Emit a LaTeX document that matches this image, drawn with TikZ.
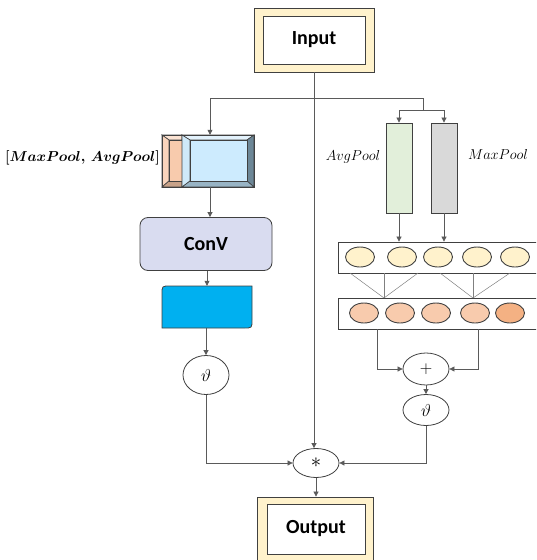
\documentclass[tikz,border=0pt]{standalone}
\usepackage{fontspec}
\newfontfamily\carlito{Carlito}
\usetikzlibrary{arrows.meta,shapes.geometric}
\definecolor{cream}{RGB}{255,242,204}
\definecolor{edgec}{RGB}{64,64,64}
\definecolor{linec}{RGB}{90,90,90}
\definecolor{lav}{RGB}{217,220,240}
\definecolor{cyanb}{RGB}{0,176,240}
\definecolor{avgc}{RGB}{226,239,218}
\definecolor{maxc}{RGB}{217,217,217}
\definecolor{yel}{RGB}{255,242,204}
\definecolor{pch}{RGB}{248,203,173}
\definecolor{pchd}{RGB}{244,177,131}
\definecolor{bin}{RGB}{205,235,254}
\definecolor{btop}{RGB}{227,242,252}
\definecolor{bleft}{RGB}{207,233,248}
\definecolor{bright}{RGB}{109,135,151}
\definecolor{bbot}{RGB}{152,180,197}
\definecolor{otop}{RGB}{251,227,211}
\definecolor{oleft}{RGB}{249,212,188}
\definecolor{obot}{RGB}{200,162,137}
\newcommand{\poollabel}{\mbox{\boldmath$[MaxPool,\,AvgPool]$}}
\newcommand{\lblfont}{\fontsize{15}{18}\selectfont}
\newcommand{\plblfont}{\fontsize{14.5}{17}\selectfont}
\begin{document}
\begin{tikzpicture}[x=1pt,y=-1pt,
  outerbox/.style={draw=edgec,fill=cream,line width=0.8pt,inner sep=0pt},
  innerbox/.style={draw=edgec,fill=white,line width=0.8pt,inner sep=0pt,font=\carlito\bfseries\fontsize{20}{24}\selectfont},
  arr/.style={draw=linec,line width=0.7pt,-{Triangle[length=5pt,width=5pt]}},
  ln/.style={draw=linec,line width=0.7pt},
  thinl/.style={draw=gray,line width=0.5pt},
  ell/.style={ellipse,draw=edgec,line width=0.8pt,fill=white,inner sep=0pt,minimum width=46pt},
  cell/.style={ellipse,draw=edgec,line width=0.9pt,inner sep=0pt,minimum width=29pt,minimum height=20pt},
  bar/.style={draw=edgec,line width=0.8pt,inner sep=0pt,minimum width=26pt,minimum height=90pt},
  face/.style={draw=edgec,line width=0.6pt},
  txtlab/.style={font=\lblfont,inner sep=0pt}
]
\useasboundingbox (0,0) rectangle (536,560);
\clip (0,0) rectangle (536,560);

% Input
\node[outerbox,minimum width=120pt,minimum height=64pt] (inpo) at (314,40) {};
\node[innerbox,minimum width=102pt,minimum height=48pt] (inp) at (314,40) {Input};

% Output
\node[outerbox,minimum width=116pt,minimum height=66pt] (outo) at (315,530) {};
\node[innerbox,minimum width=98pt,minimum height=50pt] (outp) at (316,529) {Output};

% beveled pooling box
\node[inner sep=0pt,minimum width=92pt,minimum height=52pt] (pool) at (208,161) {};
\filldraw[face,fill=otop] (162,135) -- (182,135) -- (182,140) -- (169,140) -- cycle;
\filldraw[face,fill=oleft] (162,135) -- (169,140) -- (169,181) -- (162,187) -- cycle;
\filldraw[face,fill=obot] (162,187) -- (182,187) -- (182,181) -- (169,181) -- cycle;
\filldraw[face,fill=pch] (169,140) rectangle (182,181);
\filldraw[face,fill=btop] (182,135) -- (254,135) -- (247,140) -- (190,140) -- cycle;
\filldraw[face,fill=bleft] (182,135) -- (190,140) -- (190,181) -- (182,187) -- cycle;
\filldraw[face,fill=bright] (254,135) -- (254,187) -- (247,181) -- (247,140) -- cycle;
\filldraw[face,fill=bbot] (182,187) -- (254,187) -- (247,181) -- (190,181) -- cycle;
\filldraw[face,fill=bin] (190,140) rectangle (247,181);
\draw[draw=edgec,line width=0.8pt] (162,135) rectangle (254,187);

\node[txtlab,font=\plblfont,anchor=east] (plbl) at (160,158) {\poollabel};

% ConV
\node[draw=edgec,fill=lav,line width=0.8pt,rounded corners=8pt,minimum width=132pt,minimum height=53pt,font=\carlito\bfseries\fontsize{20}{24}\selectfont] (conv) at (206,244) {ConV};

% cyan box
\node[inner sep=0pt,minimum width=90pt,minimum height=42pt] (cyb) at (207,307) {};
\filldraw[draw=edgec,fill=cyanb,line width=0.8pt] (162,328) -- (162,294) .. controls (162,286) .. (170,286) -- (252,286) -- (252,320) .. controls (252,328) .. (244,328) -- cycle;

% ellipses
\node[ell,minimum height=39pt] (th1) at (206,375) {\fontsize{18}{20}\selectfont$\vartheta$};
\node[ell,minimum height=29pt] (star) at (316,463) {\fontsize{20}{22}\selectfont$*$};
\node[ell,minimum height=32pt] (plus) at (426,369) {\fontsize{17}{19}\selectfont$+$};
\node[ell,minimum height=31pt] (th2) at (426,410) {\fontsize{18}{20}\selectfont$\vartheta$};

% bars
\node[bar,fill=avgc] (avg) at (399,168) {};
\node[bar,fill=maxc] (max) at (444,168) {};
\node[txtlab] (avgl) at (353,157) {$AvgPool$};
\node[txtlab] (maxl) at (498,154) {$MaxPool$};

% rows
\node[draw=edgec,line width=0.8pt,inner sep=0pt,minimum width=210pt,minimum height=31pt] (row1) at (443,257.5) {};
\node[draw=edgec,line width=0.8pt,inner sep=0pt,minimum width=210pt,minimum height=31pt] (row2) at (443,313.5) {};
\foreach \i/\x in {1/360,2/402,3/438,4/477,5/515}{
  \node[cell,fill=yel] (a\i) at (\x,257) {};
}
\foreach \i/\x in {1/364,2/400,3/436,4/475}{
  \node[cell,fill=pch] (b\i) at (\x,313) {};
}
\node[cell,fill=pchd] (b5) at (510,313) {};

% thin links between rows
\coordinate (m1) at (384,298);
\coordinate (m2) at (473,298);
\foreach \x in {350,384,418}{ \draw[thinl] (\x,273) -- (m1); }
\foreach \x in {440,473,510}{ \draw[thinl] (\x,273) -- (m2); }

% connectors
\coordinate (j1) at (314,98);
\coordinate (jl) at (210,98);
\coordinate (jr) at (423,98);
\coordinate (jr2) at (423,110);
\draw[arr] (inpo.south) -- (inpo.south |- star.north);
\draw[ln] (jl) -- (jr) -- (jr2);
\draw[arr] (jl) -- (jl |- pool.north);
\draw[arr] (jr2) -| (avg.north);
\draw[arr] (jr2) -| (max.north);
\draw[arr] (avg.south) -- (avg.south |- row1.north);
\draw[arr] (max.south) -- (max.south |- row1.north);
\draw[arr] (jl |- pool.south) -- (jl |- conv.north);
\coordinate (c1) at (207,271);
\draw[arr] (c1) -- (c1 |- cyb.north);
\draw[arr] (th1 |- cyb.south) -- (th1.north);
\coordinate (r1) at (377,329);
\coordinate (r2) at (478,329);
\draw[arr] (r1) |- (plus.west);
\draw[arr] (r2) |- (plus.east);
\draw[arr] (plus.south) -- (th2.north);
\draw[arr] (th1.south) |- (star.west);
\draw[arr] (th2.south) |- (star.east);
\draw[arr] (star.south) -- (star.south |- outo.north);
\end{tikzpicture}
\end{document}
